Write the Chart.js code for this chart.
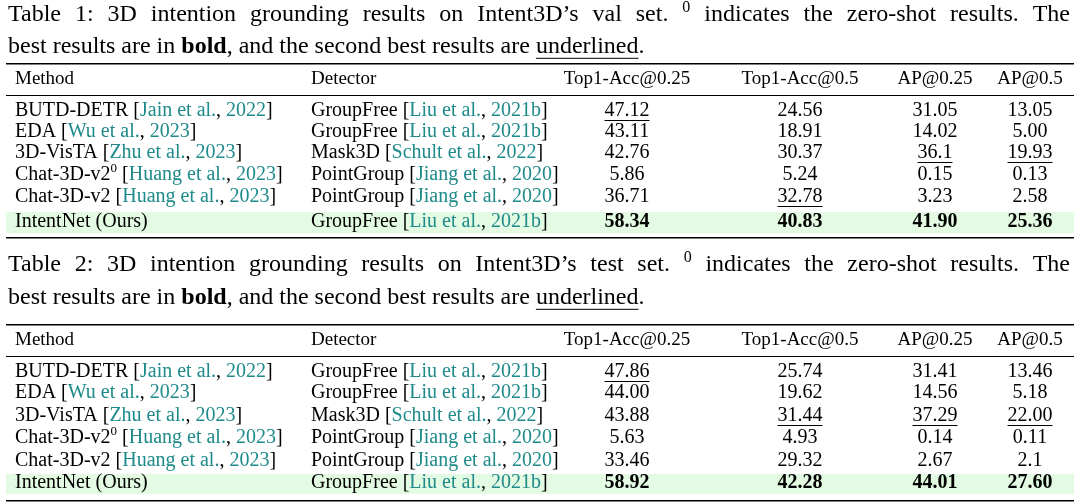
<!DOCTYPE html>
<html><head><meta charset="utf-8">
<script src="https://cdn.jsdelivr.net/npm/chart.js@4/dist/chart.umd.min.js"></script>
<style>html,body{margin:0;background:#fff}#wrap{width:1080px;height:504px}</style>
</head><body><div id="wrap"><canvas id="tbl"></canvas></div>
<script>
// segments: [text, style]  n=normal c=citation b=bold u=underline s=superscript
var headers = ['Method', 'Detector', 'Top1-Acc@0.25', 'Top1-Acc@0.5', 'AP@0.25', 'AP@0.5']
var methods = [
  [['BUTD-DETR [', 'n'], ['Jain et al.', 'c'], [', ', 'n'], ['2022', 'c'], [']', 'n']],
  [['EDA [', 'n'], ['Wu et al.', 'c'], [', ', 'n'], ['2023', 'c'], [']', 'n']],
  [['3D-VisTA [', 'n'], ['Zhu et al.', 'c'], [', ', 'n'], ['2023', 'c'], [']', 'n']],
  [['Chat-3D-v2', 'n'], ['0', 's'], [' [', 'n'], ['Huang et al.', 'c'], [', ', 'n'], ['2023', 'c'], [']', 'n']],
  [['Chat-3D-v2 [', 'n'], ['Huang et al.', 'c'], [', ', 'n'], ['2023', 'c'], [']', 'n']],
  [['IntentNet (Ours)', 'n']]
]
var detectors = [
  [['GroupFree [', 'n'], ['Liu et al.', 'c'], [', ', 'n'], ['2021b', 'c'], [']', 'n']],
  [['GroupFree [', 'n'], ['Liu et al.', 'c'], [', ', 'n'], ['2021b', 'c'], [']', 'n']],
  [['Mask3D [', 'n'], ['Schult et al.', 'c'], [', ', 'n'], ['2022', 'c'], [']', 'n']],
  [['PointGroup [', 'n'], ['Jiang et al.', 'c'], [', ', 'n'], ['2020', 'c'], [']', 'n']],
  [['PointGroup [', 'n'], ['Jiang et al.', 'c'], [', ', 'n'], ['2020', 'c'], [']', 'n']],
  [['GroupFree [', 'n'], ['Liu et al.', 'c'], [', ', 'n'], ['2021b', 'c'], [']', 'n']]
]
var valScores = [
  [['47.12', 'u'], ['24.56', 'n'], ['31.05', 'n'], ['13.05', 'n']],
  [['43.11', 'n'], ['18.91', 'n'], ['14.02', 'n'], ['5.00', 'n']],
  [['42.76', 'n'], ['30.37', 'n'], ['36.1', 'u'], ['19.93', 'u']],
  [['5.86', 'n'], ['5.24', 'n'], ['0.15', 'n'], ['0.13', 'n']],
  [['36.71', 'n'], ['32.78', 'u'], ['3.23', 'n'], ['2.58', 'n']],
  [['58.34', 'b'], ['40.83', 'b'], ['41.90', 'b'], ['25.36', 'b']]
]
var testScores = [
  [['47.86', 'u'], ['25.74', 'n'], ['31.41', 'n'], ['13.46', 'n']],
  [['44.00', 'n'], ['19.62', 'n'], ['14.56', 'n'], ['5.18', 'n']],
  [['43.88', 'n'], ['31.44', 'u'], ['37.29', 'u'], ['22.00', 'u']],
  [['5.63', 'n'], ['4.93', 'n'], ['0.14', 'n'], ['0.11', 'n']],
  [['33.46', 'n'], ['29.32', 'n'], ['2.67', 'n'], ['2.1', 'n']],
  [['58.92', 'b'], ['42.28', 'b'], ['44.01', 'b'], ['27.60', 'b']]
]
var captions = [
  [[['Table 1: 3D intention grounding results on Intent3D’s val set. ', 'n'], ['0', 's'], [' indicates the zero-shot results. The', 'n']],
   [['best results are in ', 'n'], ['bold', 'b'], [', and the second best results are ', 'n'], ['underlined', 'u'], ['.', 'n']]],
  [[['Table 2: 3D intention grounding results on Intent3D’s test set. ', 'n'], ['0', 's'], [' indicates the zero-shot results. The', 'n']],
   [['best results are in ', 'n'], ['bold', 'b'], [', and the second best results are ', 'n'], ['underlined', 'u'], ['.', 'n']]]
]

// layout (x/y in px units of the hidden linear scales)
var colX = [15, 311, 627, 800, 935, 1030]
var tables = [
  {cap: [15, 47], top: 63, head: 79, mid: 95, rows: [111, 132, 153, 175, 197, 222], hl: [212, 233], bot: 237, scores: valScores},
  {cap: [265, 298], top: 324, head: 340, mid: 356, rows: [372, 393, 416, 438, 461, 483], hl: [474, 494], bot: 500, scores: testScores}
]
var SERIF = '"Liberation Serif", "DejaVu Serif", serif'
var TEAL = '#1e8a8a'

function setFont(ctx, st, size) {
  ctx.font = (st == 'b' ? 'bold ' : '') + (st == 's' ? Math.round(size * 0.65) : size) + 'px ' + SERIF
}
function segWidth(ctx, segs, size) {
  var w = 0
  segs.forEach(s => { setFont(ctx, s[1], size); w += ctx.measureText(s[0]).width })
  return w
}
function drawSegs(ctx, segs, x, y, size, extraSpace) {
  extraSpace = extraSpace || 0
  segs.forEach(s => {
    setFont(ctx, s[1], size)
    ctx.fillStyle = s[1] == 'c' ? TEAL : '#000'
    var yy = s[1] == 's' ? y - size * 0.3 : y
    var words = extraSpace ? s[0].split(' ') : [s[0]]
    words.forEach((w, i) => {
      ctx.fillText(w, x, yy)
      var ww = ctx.measureText(w).width
      if (s[1] == 'u') ctx.fillRect(x, y + size * 0.45, ww, 1)
      x += ww
      if (i < words.length - 1) x += ctx.measureText(' ').width + extraSpace
    })
  })
}

var tablePlugin = {
  id: 'tablePlugin',
  afterDraw(chart) {
    var ctx = chart.ctx, xs = chart.scales.x, ys = chart.scales.y
    var X = v => xs.getPixelForValue(v), Y = v => ys.getPixelForValue(v)
    ctx.save()
    ctx.textBaseline = 'middle'
    tables.forEach((t, ti) => {
      var capSize = 24
      captions[ti].forEach((line, li) => {
        var extra = 0
        if (li == 0) {
          var spaces = line.reduce((a, s) => a + (s[0].split(' ').length - 1), 0)
          extra = Math.max(0, (X(1070) - X(8) - segWidth(ctx, line, capSize)) / spaces)
        }
        drawSegs(ctx, line, X(8), Y(t.cap[li]), capSize, extra)
      })
      ctx.fillStyle = '#e3fae3'
      ctx.fillRect(X(6), Y(t.hl[0]), X(1074) - X(6), Y(t.hl[1]) - Y(t.hl[0]))
      ctx.fillStyle = '#000'
      ctx.fillRect(X(6), Y(t.top), X(1074) - X(6), 1.5)
      ctx.fillRect(X(6), Y(t.mid), X(1074) - X(6), 1)
      ctx.fillRect(X(6), Y(t.bot), X(1074) - X(6), 1.5)
      var size = 20
      ctx.font = '19px ' + SERIF
      headers.forEach((h, i) => {
        ctx.textAlign = i < 2 ? 'left' : 'center'
        ctx.fillText(h, X(colX[i]), Y(t.head))
      })
      ctx.textAlign = 'left'
      t.rows.forEach((ry, r) => {
        drawSegs(ctx, methods[r], X(colX[0]), Y(ry), size)
        drawSegs(ctx, detectors[r], X(colX[1]), Y(ry), size)
        t.scores[r].forEach((s, c) => {
          var w = segWidth(ctx, [s], size)
          drawSegs(ctx, [s], X(colX[c + 2]) - w / 2, Y(ry), size)
        })
      })
    })
    ctx.restore()
  }
}

new Chart(document.getElementById('tbl'), {
  type: 'scatter',
  data: {datasets: []},
  options: {
    responsive: true, maintainAspectRatio: false, animation: false,
    layout: {padding: 0},
    plugins: {legend: {display: false}, tooltip: {enabled: false}},
    scales: {
      x: {type: 'linear', min: 0, max: 1080, display: false},
      y: {type: 'linear', min: 0, max: 504, reverse: true, display: false}
    }
  },
  plugins: [tablePlugin]
})
</script>
</body></html>
